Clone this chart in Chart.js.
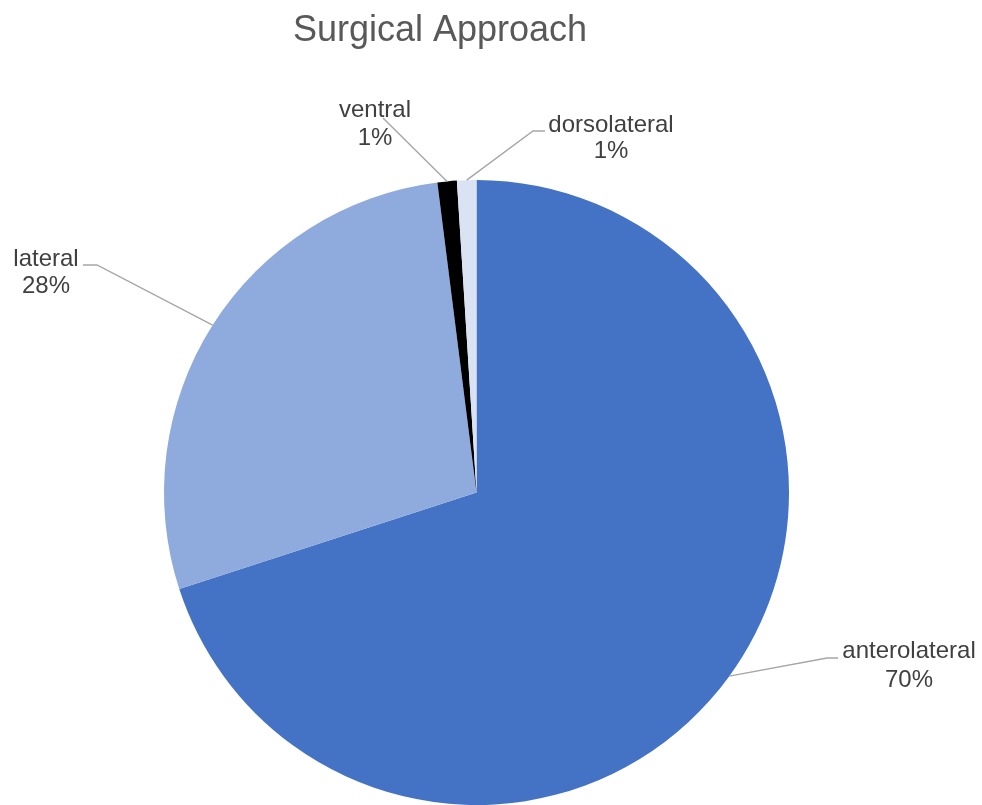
<!DOCTYPE html>
<html lang="en">
  <head>
    <meta charset="utf-8">
    <title>Surgical Approach</title>
    <script src="https://cdn.jsdelivr.net/npm/chart.js@4.4.1/dist/chart.umd.min.js"></script>
    <style>
        html, body { margin: 0; padding: 0; background: #fff; }
        div.wrap { width: 982px; height: 805px; position: relative; }
    </style>
  </head>
  <body>
    <div class="wrap">
      <canvas id="pie"></canvas>
    </div>

    <script>
      // pie data
      var categories = ['anterolateral', 'lateral', 'ventral', 'dorsolateral'];
      var percents = [70, 28, 1, 1];
      var sliceColors = ['#4472C4', '#8FAADC', '#000000', '#DAE3F3'];

      // where each callout sits: text centre, baselines, leader elbow and end
      var callouts = [
        { cx: 909, y1: 658, y2: 687, elbow: [827, 658], end: [838, 658] },
        { cx: 46,  y1: 266, y2: 293, elbow: [97, 265],  end: [83, 265] },
        { cx: 375, y1: 117, y2: 145, elbow: [383, 118], end: [383, 118] },
        { cx: 611, y1: 132, y2: 158, elbow: [533, 131], end: [545, 131] }
      ];

      var calloutPlugin = {
        id: 'callouts',
        afterDraw: function(chart) {
          var ctx = chart.ctx;
          var meta = chart.getDatasetMeta(0);
          ctx.save();

          // title
          ctx.fillStyle = '#595959';
          ctx.font = '36px "Liberation Sans", Arial, sans-serif';
          ctx.textAlign = 'center';
          ctx.textBaseline = 'alphabetic';
          ctx.fillText('Surgical Approach', 440, 41);

          meta.data.forEach(function(arc, i) {
            var c = callouts[i];
            var mid = (arc.startAngle + arc.endAngle) / 2;
            var ax = arc.x + Math.cos(mid) * arc.outerRadius;
            var ay = arc.y + Math.sin(mid) * arc.outerRadius;

            ctx.strokeStyle = '#A6A6A6';
            ctx.lineWidth = 1.4;
            ctx.beginPath();
            ctx.moveTo(ax, ay);
            ctx.lineTo(c.elbow[0], c.elbow[1]);
            ctx.lineTo(c.end[0], c.end[1]);
            ctx.stroke();

            ctx.fillStyle = '#404040';
            ctx.font = '24px "Liberation Sans", Arial, sans-serif';
            ctx.textAlign = 'center';
            ctx.fillText(categories[i], c.cx, c.y1);
            ctx.fillText(percents[i] + '%', c.cx, c.y2);
          });
          ctx.restore();
        }
      };

      new Chart(document.getElementById('pie'), {
        type: 'pie',
        data: {
          labels: categories,
          datasets: [{
            data: percents,
            backgroundColor: sliceColors,
            borderWidth: 0
          }]
        },
        options: {
          responsive: true,
          maintainAspectRatio: false,
          animation: false,
          layout: { padding: { left: 163, right: 192, top: 180, bottom: 0 } },
          plugins: {
            legend: { display: false },
            tooltip: { enabled: false },
            title: { display: false }
          }
        },
        plugins: [calloutPlugin]
      });
    </script>
  </body>
</html>
